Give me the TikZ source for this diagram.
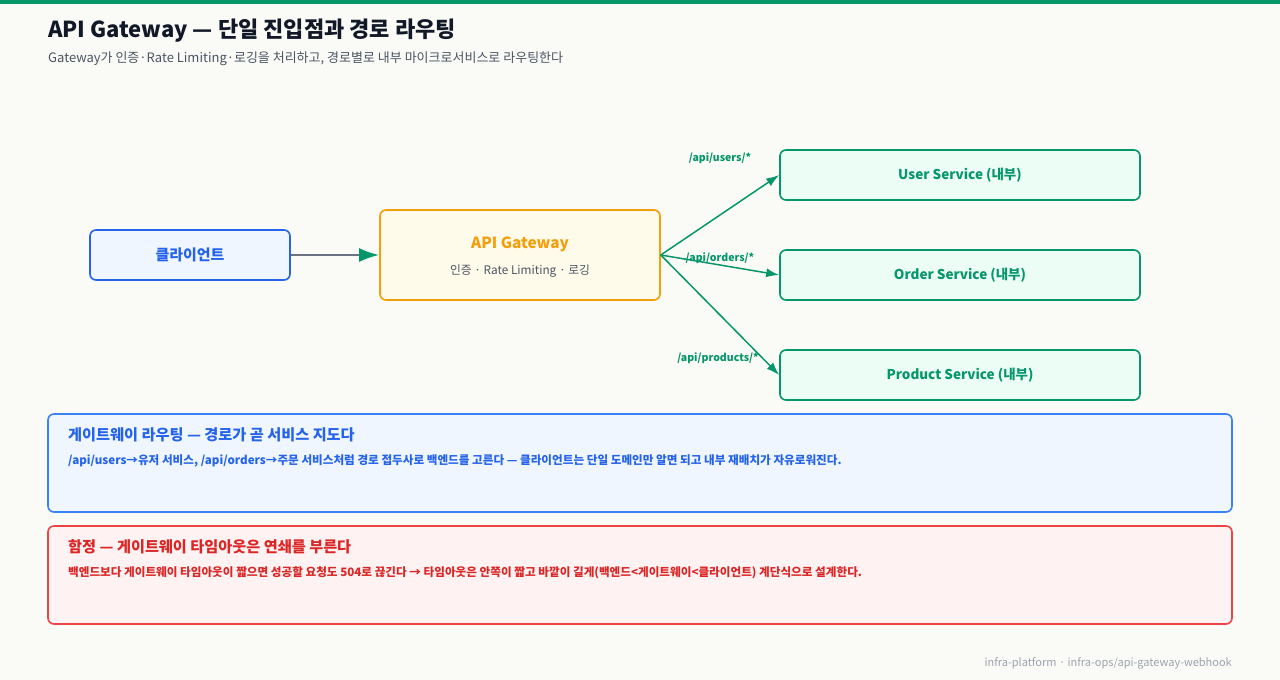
\documentclass[tikz,border=0pt]{standalone}
\usepackage{fontspec}
\setmainfont{Noto Sans CJK KR}
\usetikzlibrary{arrows.meta}
\definecolor{bgc}{HTML}{FAFAF7}
\definecolor{topbar}{HTML}{059669}
\definecolor{titlec}{HTML}{111827}
\definecolor{subc}{HTML}{4B5563}
\definecolor{bluec}{HTML}{2563EB}
\definecolor{bluefill}{HTML}{EFF6FF}
\definecolor{bluebox}{HTML}{3B82F6}
\definecolor{orangec}{HTML}{F59E0B}
\definecolor{orangefill}{HTML}{FFFBEB}
\definecolor{greenc}{HTML}{059669}
\definecolor{greenfill}{HTML}{ECFDF5}
\definecolor{grayline}{HTML}{6B7280}
\definecolor{redc}{HTML}{DC2626}
\definecolor{redbox}{HTML}{EF4444}
\definecolor{redfill}{HTML}{FEF2F2}
\definecolor{footc}{HTML}{9CA3AF}
\tikzset{
  box/.style={rounded corners=6pt, line width=1.6pt, inner sep=0pt},
  clientbox/.style={box, draw=bluec, fill=bluefill, minimum width=200pt, minimum height=50pt,
    font=\fontsize{15}{17}\selectfont\bfseries, text=bluec},
  gwbox/.style={box, draw=orangec, fill=orangefill, minimum width=280pt, minimum height=90pt},
  svcbox/.style={box, draw=greenc, fill=greenfill, minimum width=360pt, minimum height=50pt,
    font=\fontsize{13.5}{16}\selectfont\bfseries, text=greenc},
  notebox/.style={box, minimum width=1184pt, minimum height=98pt},
  route/.style={draw=greenc, line width=1.5pt, -{Latex[length=13pt,width=9pt]}},
  routelbl/.style={font=\fontsize{10.5}{12}\selectfont\bfseries, text=greenc, inner sep=0pt},
  notetitle/.style={font=\fontsize{15.2}{17}\selectfont\bfseries, anchor=base west, inner sep=0pt},
  notebody/.style={font=\fontsize{11.6}{13}\selectfont\bfseries, anchor=base west, inner sep=0pt},
}
\begin{document}
\begin{tikzpicture}[x=1pt,y=-1pt]
\useasboundingbox (0,0) rectangle (1280,680);
\fill[bgc] (0,0) rectangle (1280,680);
\fill[topbar] (0,0) rectangle (1280,4);

\node[anchor=base west, inner sep=0pt, text=titlec, font=\fontsize{22}{25}\selectfont\bfseries] (title) at (48,37) {API Gateway — 단일 진입점과 경로 라우팅};
\node[anchor=base west, inner sep=0pt, text=subc, font=\fontsize{13}{15}\selectfont] (subtitle) at (48,62) {Gateway가 인증·Rate Limiting·로깅을 처리하고, 경로별로 내부 마이크로서비스로 라우팅한다};

\node[clientbox] (client) at (190,255) {클라이언트};
\node[gwbox] (gw) at (520,255) {};
\node[anchor=base, inner sep=0pt, text=orangec, font=\fontsize{15.4}{18}\selectfont\bfseries] (gwtitle) at (520,248) {API Gateway};
\node[anchor=base, inner sep=0pt, text=subc, font=\fontsize{11.8}{13}\selectfont] (gwsub) at (520,274) {인증 · Rate Limiting · 로깅};

\node[svcbox] (user) at (960,175) {User Service (내부)};
\node[svcbox] (order) at (960,275) {Order Service (내부)};
\node[svcbox] (product) at (960,375) {Product Service (내부)};

\draw[draw=grayline, line width=2.5pt, -{Latex[length=20pt,width=14pt,fill=greenc,color=greenc]}] (client.east) -- (gw.west);
\draw[route] (gw.east) -- (user.west);
\draw[route] (gw.east) -- (order.west);
\draw[route] (gw.east) -- (product.west);

\node[routelbl] (l1) at (720,158) {/api/users/*};
\node[routelbl] (l2) at (720,258) {/api/orders/*};
\node[routelbl] (l3) at (718,358) {/api/products/*};

\node[notebox, draw=bluebox, fill=bluefill] (note1) at (640,463) {};
\node[notetitle, text=bluec] (n1t) at (68,440) {게이트웨이 라우팅 — 경로가 곧 서비스 지도다};
\node[notebody, text=bluec] (n1b) at (68,464) {/api/users→유저 서비스, /api/orders→주문 서비스처럼 경로 접두사로 백엔드를 고른다 — 클라이언트는 단일 도메인만 알면 되고 내부 재배치가 자유로워진다.};

\node[notebox, draw=redbox, fill=redfill] (note2) at (640,575) {};
\node[notetitle, text=redc] (n2t) at (68,552) {함정 — 게이트웨이 타임아웃은 연쇄를 부른다};
\node[notebody, text=redc] (n2b) at (68,576) {백엔드보다 게이트웨이 타임아웃이 짧으면 성공할 요청도 504로 끊긴다 → 타임아웃은 안쪽이 짧고 바깥이 길게(백엔드<게이트웨이<클라이언트) 계단식으로 설계한다.};

\node[anchor=base east, inner sep=0pt, text=footc, font=\fontsize{11}{13}\selectfont] (footer) at (1232,666) {infra-platform · infra-ops/api-gateway-webhook};
\end{tikzpicture}
\end{document}
